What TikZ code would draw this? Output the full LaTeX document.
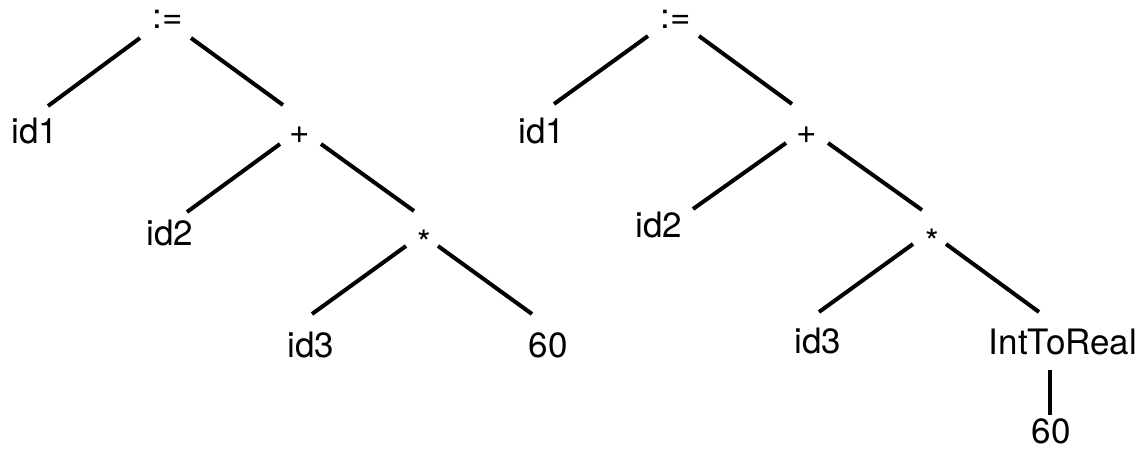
\documentclass[tikz,border=0pt]{standalone}
\usepackage{fontspec}
\setmainfont{TeX Gyre Heros}
\begin{document}
\begin{tikzpicture}[x=1pt,y=-1pt,
  lbl/.style={inner sep=0pt, anchor=base, font=\fontsize{35}{40}\selectfont},
  edge/.style={line width=4pt}]
\useasboundingbox (0,0) rectangle (1142,451);
% left tree
\node[lbl] (lasg)  at (168,28)  {:=};
\node[lbl] (lid1)  at (35,143)  {id1};
\node[lbl] (lplus) at (300,143) {+};
\node[lbl] (lid2)  at (170,245) {id2};
\node[lbl] (lstar) at (424,255) {*};
\node[lbl] (lid3)  at (311,357) {id3};
\node[lbl] (lsix)  at (548,357) {60};
% right tree
\node[lbl] (rasg)  at (676,28)  {:=};
\node[lbl] (rid1)  at (542,143) {id1};
\node[lbl] (rplus) at (807,143) {+};
\node[lbl] (rid2)  at (659,237) {id2};
\node[lbl] (rstar) at (932,254) {*};
\node[lbl] (rid3)  at (818,353) {id3};
\node[lbl] (rint)  at (1063,354) {IntToReal};
\node[lbl] (rsix)  at (1051,443) {60};
% left edges
\draw[edge] ([shift={(-28,10)}]lasg.base) -- ([shift={(13,-37)}]lid1.base);
\draw[edge] ([shift={(23,10)}]lasg.base) -- ([shift={(-17,-38)}]lplus.base);
\draw[edge] ([shift={(-20,1)}]lplus.base) -- ([shift={(17,-33)}]lid2.base);
\draw[edge] ([shift={(21,1)}]lplus.base) -- ([shift={(-10,-44)}]lstar.base);
\draw[edge] ([shift={(-18,-9)}]lstar.base) -- ([shift={(1,-43)}]lid3.base);
\draw[edge] ([shift={(14,-9)}]lstar.base) -- ([shift={(-16,-43)}]lsix.base);
% right edges
\draw[edge] ([shift={(-28,8)}]rasg.base) -- ([shift={(12,-39)}]rid1.base);
\draw[edge] ([shift={(23,8)}]rasg.base) -- ([shift={(-15,-39)}]rplus.base);
\draw[edge] ([shift={(-21,0)}]rplus.base) -- ([shift={(34,-28)}]rid2.base);
\draw[edge] ([shift={(21,0)}]rplus.base) -- ([shift={(-10,-44)}]rstar.base);
\draw[edge] ([shift={(-19,-10)}]rstar.base) -- ([shift={(1,-41)}]rid3.base);
\draw[edge] ([shift={(14,-10)}]rstar.base) -- ([shift={(-24,-42)}]rint.base);
\draw[edge] ([shift={(-13,16)}]rint.base) -- ([shift={(-1,-28)}]rsix.base);
\end{tikzpicture}
\end{document}
